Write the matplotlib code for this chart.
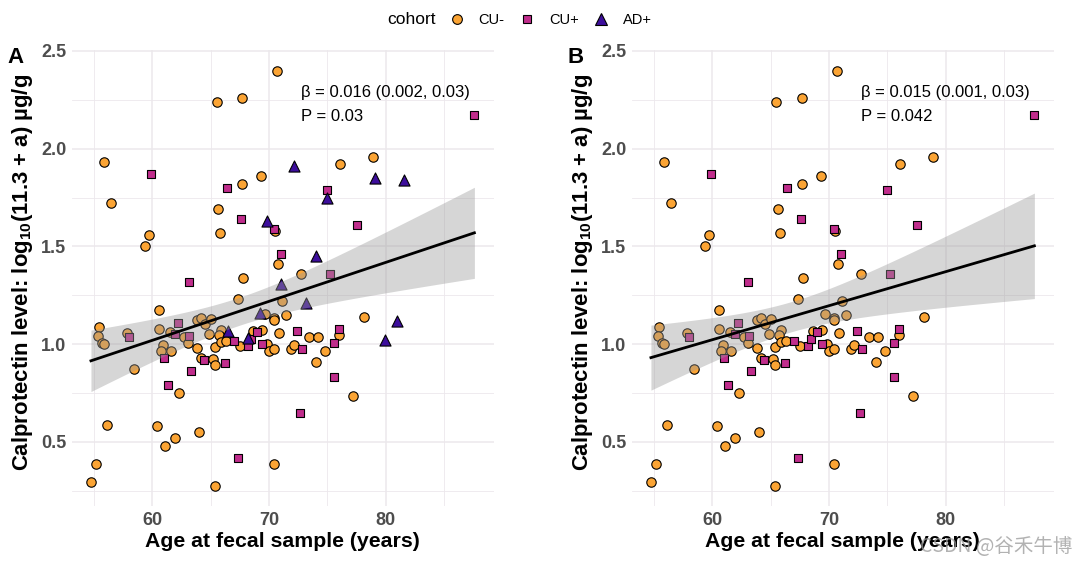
import numpy as np
import matplotlib
matplotlib.use("Agg")
import matplotlib.pyplot as plt
from matplotlib.lines import Line2D

plt.rcParams['font.family'] = ['Liberation Sans', 'DejaVu Sans']
plt.rcParams['mathtext.fontset'] = 'custom'
plt.rcParams['mathtext.rm'] = 'Liberation Sans'
plt.rcParams['mathtext.bf'] = 'Liberation Sans:bold'
plt.rcParams['mathtext.it'] = 'Liberation Sans:italic'

# ---------------- data ----------------
cu_minus_age = [70.7, 65.5, 67.7, 55.9, 56.5, 59.7, 59.4, 78.9, 76.1, 69.3, 67.7, 65.6, 65.8, 70.5,
                70.8, 72.7, 67.8,
                55.4, 55.34, 55.66, 55.89, 58.4, 57.86, 60.6, 60.6, 60.94, 60.77, 61.6, 61.51, 62.74,
                63.09, 62.26, 63.86, 64.17, 63.8, 64.2, 64.54, 65.06, 64.86, 65.23, 65.37, 65.37,
                65.86, 65.71, 65.86, 66.29, 67.37, 67.49, 68.66, 69.4, 69.66, 69.86, 69.97, 70.43,
                70.4, 70.43, 70.83, 71.09, 71.46, 71.86, 72.14, 73.4, 74.2, 74.06, 74.8, 76.0, 78.17,
                77.23, 56.11, 60.37, 61.06, 61.91, 63.97, 55.2, 54.74, 70.4, 65.4]
cu_minus_val = [2.40, 2.24, 2.26, 1.93, 1.72, 1.56, 1.50, 1.96, 1.92, 1.86, 1.82, 1.69, 1.57, 1.58,
                1.41, 1.36, 1.34,
                1.086, 1.041, 1.004, 1.002, 0.871, 1.058, 1.176, 1.080, 0.997, 0.965, 0.965, 1.062, 1.038,
                1.006, 0.748, 0.980, 0.932, 1.125, 1.133, 1.103, 1.127, 1.053, 0.925, 0.893, 0.985,
                1.075, 1.048, 1.011, 1.017, 1.232, 0.989, 1.069, 1.072, 1.152, 0.999, 0.963, 0.978,
                1.132, 1.123, 1.055, 1.222, 1.150, 0.977, 0.994, 1.035, 1.036, 0.908, 0.966, 1.046, 1.137,
                0.736, 0.586, 0.583, 0.477, 0.522, 0.549, 0.385, 0.295, 0.389, 0.276]

cu_plus_age = [87.6, 59.9, 66.4, 75.0, 67.6, 70.4, 77.5, 71.0, 75.2, 63.1, 62.2, 61.91, 63.11, 58.03,
               60.97, 63.31, 61.37, 64.46, 66.26, 67.03, 68.2, 68.49, 68.94, 69.37, 72.4, 72.8, 76.0,
               75.6, 75.54, 72.66, 67.31]
cu_plus_val = [2.17, 1.87, 1.80, 1.79, 1.64, 1.59, 1.61, 1.46, 1.36, 1.32, 1.108, 1.050, 1.041, 1.035,
               0.931, 0.861, 0.789, 0.919, 0.902, 1.016, 0.989, 1.029, 1.065, 1.002, 1.067, 0.975, 1.079,
               1.004, 0.832, 0.646, 0.419]

ad_plus_age = [72.1, 79.1, 81.6, 75.0, 69.8, 74.0, 71.0, 73.2, 69.2, 66.5, 68.2, 81.0, 79.9]
ad_plus_val = [1.91, 1.85, 1.84, 1.75, 1.63, 1.45, 1.31, 1.21, 1.16, 1.07, 1.03, 1.12, 1.02]

cohorts = ['CU-', 'CU+', 'AD+']
panel_labels = ['A', 'B']
beta_text = ['β = 0.016 (0.002, 0.03)', 'β = 0.015 (0.001, 0.03)']
p_text = ['P = 0.03', 'P = 0.042']
x_ticks = [60, 70, 80]
y_ticks = [0.5, 1.0, 1.5, 2.0, 2.5]

# ---------------- styles ----------------
colors = {'CU-': '#FBA434', 'CU+': '#C02D8C', 'AD+': '#3D0E9C'}
markers = {'CU-': 'o', 'CU+': 's', 'AD+': '^'}
sizes = {'CU-': 46, 'CU+': 35, 'AD+': 64}
grid_col = '#ECE8EC'


def fit_band(x, y, xs):
    x = np.asarray(x, float); y = np.asarray(y, float)
    n = len(x)
    b, a = np.polyfit(x, y, 1)
    resid = y - (a + b * x)
    s = np.sqrt(np.sum(resid ** 2) / (n - 2))
    xm = x.mean(); sxx = np.sum((x - xm) ** 2)
    se = s * np.sqrt(1.0 / n + (xs - xm) ** 2 / sxx)
    t = 1.96 + 2.4 / (n - 2)
    yh = a + b * xs
    return yh, yh - t * se, yh + t * se


fig = plt.figure(figsize=(10.8, 5.64), dpi=100)
ax_pos = [[0.0665, 0.102, 0.3908, 0.809], [0.585, 0.102, 0.3908, 0.809]]

data = {'CU-': (cu_minus_age, cu_minus_val), 'CU+': (cu_plus_age, cu_plus_val),
        'AD+': (ad_plus_age, ad_plus_val)}

for i in range(2):
    ax = fig.add_axes(ax_pos[i])
    groups = cohorts if i == 0 else cohorts[:2]
    all_x, all_y = [], []
    for g in groups:
        gx, gy = data[g]
        all_x += gx; all_y += gy
        ax.scatter(gx, gy, s=sizes[g], marker=markers[g], facecolor=colors[g],
                   edgecolor='black', linewidth=0.8, zorder=2)
    xs = np.linspace(min(all_x), max(all_x), 80)
    yh, lo, hi = fit_band(all_x, all_y, xs)
    ax.fill_between(xs, lo, hi, color='#999999', alpha=0.4, linewidth=0, zorder=3)
    ax.plot(xs, yh, color='black', lw=2.0, zorder=4)

    ax.set_xlim(53.1, 89.27)
    ax.set_ylim(0.17, 2.504)
    ax.set_xticks(x_ticks)
    ax.set_xticks([55, 65, 75, 85], minor=True)
    ax.set_yticks(y_ticks)
    ax.set_yticks([0.25, 0.75, 1.25, 1.75, 2.25], minor=True)
    ax.set_yticklabels([f'{v:.1f}' for v in y_ticks])
    ax.grid(True, which='major', color=grid_col, lw=1.1, zorder=0)
    ax.grid(True, which='minor', color=grid_col, lw=0.6, zorder=0)
    ax.set_axisbelow(True)
    for sp in ax.spines.values():
        sp.set_visible(False)
    ax.tick_params(which='both', length=0, labelsize=13, labelcolor='#4D4D4D', pad=4)
    for lab in ax.get_xticklabels() + ax.get_yticklabels():
        lab.set_fontweight('bold')
    ax.set_xlabel('Age at fecal sample (years)', fontsize=15.3, fontweight='bold', labelpad=2)
    ax.set_ylabel(r'Calprotectin level: $\mathbf{log_{10}}$(11.3 + a) µg/g',
                  fontsize=15.9, fontweight='bold')
    ax.yaxis.set_label_coords(-0.088, 0.512)
    ax.text(72.74, 2.289, beta_text[i], fontsize=12, va='center', ha='left', zorder=5)
    ax.text(72.74, 2.166, p_text[i], fontsize=12, va='center', ha='left', zorder=5)
    fig.text(ax_pos[i][0] - 0.0595, 0.898, panel_labels[i], fontsize=16, fontweight='bold',
             va='center', ha='left')

# legend
fig.text(387 / 1080, 1 - 20 / 564, 'cohort', fontsize=12.5, va='center', ha='left')
handles = [Line2D([], [], linestyle='none', marker=markers[g], markersize=7 if g != 'AD+' else 8.5,
                  markerfacecolor=colors[g], markeredgecolor='black', markeredgewidth=0.8)
           for g in cohorts]
handles[1].set_markersize(6)
fig.legend(handles, cohorts, loc='center left', bbox_to_anchor=(448 / 1080, 1 - 20 / 564),
           ncol=3, frameon=False, fontsize=10.5, handlelength=1.2, handletextpad=0.9,
           columnspacing=0.95, borderaxespad=0, borderpad=0)

# watermark
fig.text(1072 / 1080, 1 - 546 / 564, 'CSDN @谷禾牛博', fontsize=14, color='#999999', alpha=0.75,
         ha='right', va='center', family=['Noto Sans CJK SC', 'DejaVu Sans'])

fig.savefig('out.png', dpi=100)
